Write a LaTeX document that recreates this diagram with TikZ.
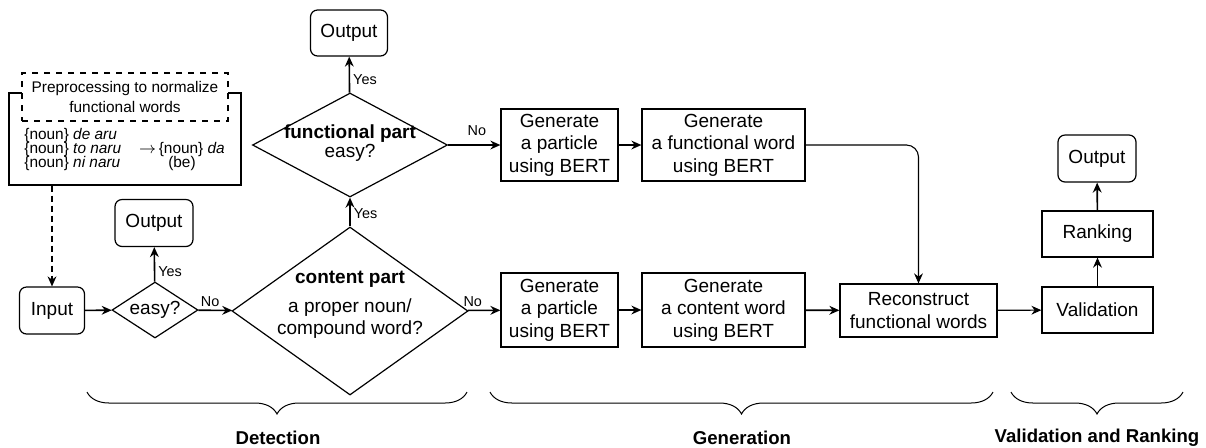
\documentclass[tikz,border=0pt]{standalone}
\usepackage{fontspec}
\setmainfont{Liberation Sans}
\usetikzlibrary{arrows.meta,positioning,calc,shapes.geometric,decorations.pathreplacing}
\tikzset{
  >={Stealth[length=5pt,width=4.4pt]},
  flow/.style={->, draw=black, line width=0.8pt},
  thinflow/.style={->, draw=black, line width=0.55pt},
  body/.style={font=\fontsize{9.5}{11.3}\selectfont, align=center},
  procbox/.style={body, draw=black, fill=white, line width=0.6pt, inner sep=1pt},
  termbox/.style={procbox, rounded corners=3.5pt},
  decision/.style={diamond, draw=black, fill=white, line width=0.6pt, inner sep=0pt},
  branchlabel/.style={font=\fontsize{7.2}{8}\selectfont, inner sep=1.5pt},
  prepnote/.style={font=\fontsize{7.7}{7.2}\selectfont},
  phase/.style={decorate, decoration={brace, mirror, amplitude=11pt}, line width=0.5pt},
  phaselabel/.style={font=\fontsize{9.3}{11}\selectfont\bfseries},
}

\begin{document}
\begin{tikzpicture}[x=0.5pt, y=-0.5pt]
\useasboundingbox (0,0) rectangle (1206,447);

% -----------------------------------------------------------------------------
% Preprocessing note
% -----------------------------------------------------------------------------
\node[draw=black, line width=0.6pt, minimum width=116pt, minimum height=46pt] (prep) at (125,139) {};
\node[draw=black, dashed, fill=white, line width=0.6pt, prepnote, align=center,
      minimum width=103pt, minimum height=24pt] (prepTitle) at (125,97)
  {Preprocessing to normalize\\[3pt]functional words};
\node[prepnote, align=left, anchor=west, inner sep=0pt] (prepList) at (24,149.5)
  {\{noun\} \textit{de aru}\\\{noun\} \textit{to naru}\\\{noun\} \textit{ni naru}};
\node[prepnote, align=center, inner sep=0pt] (prepTarget) at (182,156.5)
  {$\rightarrow$\,\{noun\} \textit{da}\\(be)};

% -----------------------------------------------------------------------------
% Detection
% -----------------------------------------------------------------------------
\node[termbox, minimum width=32.5pt, minimum height=23.5pt] (input) at (52,310.5) {Input};
\node[decision, aspect=1.6, minimum width=43pt, minimum height=28pt, body] (easy) at (155,310) {easy?};
\node[termbox, minimum width=39pt, minimum height=23.5pt] (outEasy) at (154,223) {Output};

\node[decision, minimum width=118pt, minimum height=84pt] (content) at (350,311) {};
\node[body] (contentText) at (350,305)
  {\textbf{content part}\\[3pt]a proper noun/\\compound word?};

\node[decision, minimum width=97.5pt, minimum height=52pt] (func) at (350,145) {};
\node[body] (funcText) at (350,143) {\textbf{functional part}\\[-1.5pt]easy?};
\node[termbox, minimum width=38.5pt, minimum height=23pt] (outFunc) at (349,33) {Output};

\draw[flow, dashed, dash pattern=on 3pt off 2pt, line width=0.6pt] (prep.south -| input.north) -- (input.north);
\draw[flow] (input) -- (easy);
\draw[flow] (easy) -- node[branchlabel, right, pos=0.3] {Yes} (outEasy);
\draw[flow] (easy) -- node[branchlabel, above, pos=0.35] {No} (content);
\draw[flow] (content) -- node[branchlabel, right, pos=0.45] {Yes} (func);
\draw[flow] (func) -- node[branchlabel, right, pos=0.35] {Yes} (outFunc);

% -----------------------------------------------------------------------------
% Generation
% -----------------------------------------------------------------------------
\node[procbox, minimum width=58.5pt, minimum height=36pt] (partTop) at (559.5,145) {Generate\\a particle\\using BERT};
\node[procbox, minimum width=81.5pt, minimum height=36pt] (funcWord) at (723.5,145) {Generate\\a functional word\\using BERT};
\node[procbox, minimum width=58.5pt, minimum height=37pt] (partBot) at (559.5,310) {Generate\\a particle\\using BERT};
\node[procbox, minimum width=81.5pt, minimum height=37pt] (contentWord) at (723.5,310) {Generate\\a content word\\using BERT};
\node[procbox, minimum width=78.5pt, minimum height=26.5pt] (recon) at (918.5,310.5) {Reconstruct\\functional words};

\draw[flow] (func) -- node[branchlabel, above, pos=0.55, yshift=3pt] {No} (partTop);
\draw[flow] (content) -- node[branchlabel, above, pos=0.15] {No} (partBot);
\draw[flow] (partTop) -- (funcWord);
\draw[flow] (partBot) -- (contentWord);
\draw[flow] (contentWord) -- (recon);
\draw[thinflow, rounded corners=6pt] (funcWord.east) -| (recon.north);

% -----------------------------------------------------------------------------
% Validation and ranking
% -----------------------------------------------------------------------------
\node[procbox, minimum width=55.5pt, minimum height=23pt] (valid) at (1097.5,310) {Validation};
\node[procbox, minimum width=55.5pt, minimum height=23pt] (rank) at (1097.5,234) {Ranking};
\node[termbox, minimum width=39pt, minimum height=23.5pt] (outFinal) at (1097,158.5) {Output};

\draw[thinflow] (recon) -- (valid);
\draw[flow] (valid) -- (rank);
\draw[flow] (rank) -- (outFinal);

% phase braces
\coordinate (detA) at (87,392);  \coordinate (detB) at (467,392);
\coordinate (genA) at (490,392); \coordinate (genB) at (993,392);
\coordinate (valA) at (1011,392); \coordinate (valB) at (1183,392);
\draw[phase] (detA) -- (detB);
\draw[phase] (genA) -- (genB);
\draw[phase] (valA) -- (valB);
\node[phaselabel] (detLabel) at (278,438) {Detection};
\node[phaselabel] (genLabel) at (742,438) {Generation};
\node[phaselabel] (valLabel) at (1097,438) {Validation and Ranking};

\end{tikzpicture}
\end{document}
